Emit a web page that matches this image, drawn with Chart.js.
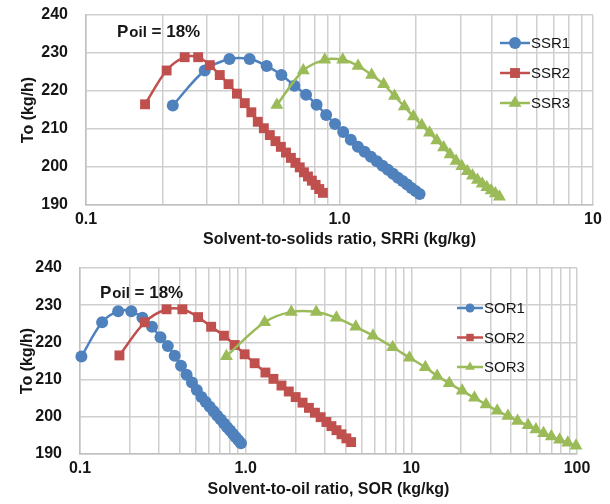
<!DOCTYPE html>
<html>
<head>
<meta charset="utf-8">
<script src="https://cdn.jsdelivr.net/npm/chart.js@4.4.0/dist/chart.umd.min.js"></script>
<style>
  html, body { margin: 0; padding: 0; background: #fff; }
  canvas { display: block; }
</style>
</head>
<body>
<canvas id="topChart" width="610" height="252"></canvas>
<canvas id="bottomChart" width="610" height="252"></canvas>
<script>
// gridlines / tick labels of the two log axes
var topGrid = [0.1, 0.2, 0.3, 0.4, 0.5, 0.6, 0.7, 0.8, 0.9, 1, 2, 3, 4, 5, 6, 7, 8, 9, 10];
var bottomGrid = [0.1, 0.2, 0.3, 0.4, 0.5, 0.6, 0.7, 0.8, 0.9, 1, 2, 3, 4, 5, 6, 7, 8, 9,
                  10, 20, 30, 40, 50, 60, 70, 80, 90, 100];
var topTickValues = [0.1, 1, 10];
var topTickLabels = ['0.1', '1.0', '10'];
var bottomTickValues = [0.1, 1, 10, 100];
var bottomTickLabels = ['0.1', '1.0', '10', '100'];

var topNames = ['SSR1', 'SSR2', 'SSR3'];
var bottomNames = ['SOR1', 'SOR2', 'SOR3'];

// To (kg/h) for each run, same runs in both panels
var to1 = [216.2, 225.4, 228.4, 228.4, 226.6, 224.2, 221.4, 219.0, 216.4, 213.7, 211.3, 209.2, 207.2,
           205.3, 204.0, 202.7, 201.5, 200.3, 199.3, 198.2, 197.2, 196.3, 195.4, 194.5, 193.7, 192.9];
var to2 = [216.5, 225.4, 228.9, 228.9, 226.8, 224.2, 221.8, 219.3, 216.8, 214.4, 211.9, 210.2, 208.4,
           206.8, 205.3, 203.8, 202.4, 201.1, 199.9, 198.6, 197.5, 196.4, 195.3, 194.2, 193.2];
var to3 = [216.3, 225.4, 228.2, 228.2, 226.6, 224.2, 221.8, 218.7, 215.9, 213.3, 211.0, 209.0, 207.0,
           205.1, 203.3, 201.6, 200.2, 198.9, 197.7, 196.6, 195.6, 194.7, 193.8, 193.0, 192.2];

// solvent-to-solids ratio (top)
var ssr1 = [0.22, 0.294, 0.368, 0.442, 0.516, 0.59, 0.664, 0.738, 0.812, 0.886, 0.96, 1.034, 1.108,
            1.182, 1.256, 1.33, 1.404, 1.478, 1.552, 1.626, 1.70, 1.774, 1.848, 1.922, 1.996, 2.07];
var ssr2 = [0.171, 0.208, 0.245, 0.277, 0.308, 0.337, 0.365, 0.394, 0.423, 0.449, 0.476, 0.503, 0.531,
            0.559, 0.587, 0.615, 0.643, 0.670, 0.697, 0.724, 0.751, 0.778, 0.805, 0.832, 0.86];
var ssr3 = [0.566, 0.72, 0.875, 1.03, 1.184, 1.339, 1.493, 1.648, 1.802, 1.957, 2.111, 2.266, 2.42,
            2.575, 2.729, 2.884, 3.038, 3.193, 3.347, 3.502, 3.656, 3.811, 3.965, 4.12, 4.274];

// solvent-to-oil ratio (bottom)
var sor1 = [0.102, 0.136, 0.170, 0.204, 0.238, 0.272, 0.306, 0.339, 0.373, 0.407, 0.440, 0.474, 0.507,
            0.541, 0.574, 0.607, 0.641, 0.674, 0.707, 0.740, 0.773, 0.806, 0.839, 0.872, 0.905, 0.937];
var sor2 = [0.173, 0.246, 0.333, 0.415, 0.516, 0.619, 0.739, 0.859, 0.986, 1.133, 1.316, 1.471, 1.645,
            1.821, 2.004, 2.205, 2.409, 2.619, 2.834, 3.072, 3.293, 3.534, 3.787, 4.054, 4.33];
var sor3 = [0.765, 1.302, 1.886, 2.667, 3.53, 4.62, 5.87, 7.72, 9.74, 12.14, 14.32, 16.94, 20.28,
            24.04, 28.25, 33.0, 38.3, 43.8, 50.7, 56.5, 62.8, 70.0, 78.5, 88.0, 98.6];

var FONT = '"Liberation Sans", Arial, sans-serif';
var textColor = '#161616';
var gridColor = '#cfcfcf';
var colors = ['#4F81BD', '#C0504D', '#9BBB59'];
var styles = ['circle', 'rect', 'triangle'];
var radii = [6, 7, 7.5];

function series(label, xs, ys, idx) {
  return {
    label: label,
    data: xs.map(function (x, i) { return { x: x, y: ys[i] }; }),
    borderColor: colors[idx],
    backgroundColor: colors[idx],
    pointBackgroundColor: colors[idx],
    pointBorderColor: colors[idx],
    pointBorderWidth: 0,
    pointStyle: styles[idx],
    pointRadius: radii[idx],
    borderWidth: 2.5,
    tension: 0.35,
    clip: false,
    order: 3 - idx
  };
}

function marker(ctx, style, x, y, r) {
  ctx.beginPath();
  if (style === 'circle') {
    ctx.arc(x, y, r, 0, Math.PI * 2);
  } else if (style === 'rect') {
    var s = r * Math.SQRT1_2;
    ctx.rect(x - s, y - s, 2 * s, 2 * s);
  } else {
    for (var k = 0; k < 3; k++) {
      var a = k * 2 * Math.PI / 3;
      if (k === 0) ctx.moveTo(x + Math.sin(a) * r, y - Math.cos(a) * r);
      else ctx.lineTo(x + Math.sin(a) * r, y - Math.cos(a) * r);
    }
    ctx.closePath();
  }
  ctx.fill();
}

// legend inside the plot + the "Poil = 18%" note
var decor = {
  id: 'decor',
  afterDraw: function (chart, args, o) {
    var ctx = chart.ctx;
    ctx.save();
    ctx.fillStyle = textColor;
    ctx.textBaseline = 'alphabetic';
    var x = o.noteX;
    ctx.font = 'bold 17px ' + FONT;
    ctx.fillText('P', x, o.noteY);
    x += ctx.measureText('P').width + 1;
    ctx.font = 'bold 15px ' + FONT;
    ctx.fillText('oil', x, o.noteY);
    x += ctx.measureText('oil').width;
    ctx.font = 'bold 17px ' + FONT;
    ctx.fillText(' = 18%', x, o.noteY);

    chart.data.datasets.forEach(function (ds, i) {
      var ly = o.legendY + i * o.legendGap;
      ctx.strokeStyle = ds.borderColor;
      ctx.lineWidth = 2.5;
      ctx.beginPath();
      ctx.moveTo(o.legendX, ly);
      ctx.lineTo(o.legendX + o.legendLen, ly);
      ctx.stroke();
      ctx.fillStyle = ds.borderColor;
      marker(ctx, ds.pointStyle, o.legendX + o.legendLen / 2, ly, ds.pointRadius * o.markerScale);
      ctx.fillStyle = textColor;
      ctx.font = '15px ' + FONT;
      ctx.textBaseline = 'middle';
      ctx.fillText(ds.label, o.legendX + o.legendLen + 1, ly + 1);
    });
    ctx.restore();
  }
};

function buildOptions(o) {
  var tickFont = { family: FONT, size: 16, weight: 'bold' };
  var titleFont = { family: FONT, size: 16, weight: 'bold' };
  return {
    responsive: false,
    animation: false,
    events: [],
    layout: { padding: o.padding },
    plugins: {
      legend: { display: false },
      tooltip: { enabled: false },
      decor: o.decor
    },
    scales: {
      x: {
        type: 'logarithmic',
        min: o.grid[0],
        max: o.grid[o.grid.length - 1],
        afterBuildTicks: function (axis) {
          axis.ticks = o.grid.map(function (v) { return { value: v }; });
        },
        afterFit: function (axis) {
          axis.height = o.xHeight;
          axis.paddingLeft = 0;
          axis.paddingRight = 0;
        },
        grid: { color: gridColor, lineWidth: 1.5, drawTicks: false },
        border: { color: '#c0c0c0', width: 1.5 },
        ticks: {
          autoSkip: false, maxRotation: 0, padding: 5,
          color: textColor, font: tickFont,
          callback: function (v) {
            var i = o.tickValues.indexOf(v);
            return i < 0 ? '' : o.tickLabels[i];
          }
        },
        title: {
          display: true, text: o.xTitle, color: textColor, font: titleFont,
          padding: { top: 0, bottom: o.xTitlePad }
        }
      },
      y: {
        min: 190,
        max: 240,
        afterFit: function (axis) {
          axis.width = o.yWidth;
          axis.paddingTop = 0;
          axis.paddingBottom = 0;
        },
        grid: { color: gridColor, lineWidth: 1.5, drawTicks: false },
        border: { color: '#c0c0c0', width: 1.5 },
        ticks: { stepSize: 10, padding: 18, color: textColor, font: tickFont },
        title: {
          display: true, text: 'To (kg/h)', color: textColor, font: titleFont,
          padding: { top: o.yTitlePad, bottom: 0 }
        }
      }
    }
  };
}

new Chart(document.getElementById('topChart').getContext('2d'), {
  type: 'line',
  data: {
    datasets: [
      series(topNames[0], ssr1, to1, 0),
      series(topNames[1], ssr2, to2, 1),
      series(topNames[2], ssr3, to3, 2)
    ]
  },
  options: buildOptions({
    padding: { left: 0, right: 17, top: 15, bottom: 0 },
    grid: topGrid, tickValues: topTickValues, tickLabels: topTickLabels,
    xHeight: 47, yWidth: 86, xTitlePad: 3, yTitlePad: 19,
    xTitle: 'Solvent-to-solids ratio, SRRi (kg/kg)',
    decor: { noteX: 117, noteY: 37, legendX: 500, legendY: 43, legendGap: 30, legendLen: 30, markerScale: 1 }
  }),
  plugins: [decor]
});

new Chart(document.getElementById('bottomChart').getContext('2d'), {
  type: 'line',
  data: {
    datasets: [
      series(bottomNames[0], sor1, to1, 0),
      series(bottomNames[1], sor2, to2, 1),
      series(bottomNames[2], sor3, to3, 2)
    ]
  },
  options: buildOptions({
    padding: { left: 0, right: 33, top: 16, bottom: 0 },
    grid: bottomGrid, tickValues: bottomTickValues, tickLabels: bottomTickLabels,
    xHeight: 50, yWidth: 80, xTitlePad: 5, yTitlePad: 18,
    xTitle: 'Solvent-to-oil ratio, SOR (kg/kg)',
    decor: { noteX: 100, noteY: 46, legendX: 457, legendY: 56, legendGap: 29.5, legendLen: 26, markerScale: 0.75 }
  }),
  plugins: [decor]
});
</script>
</body>
</html>
